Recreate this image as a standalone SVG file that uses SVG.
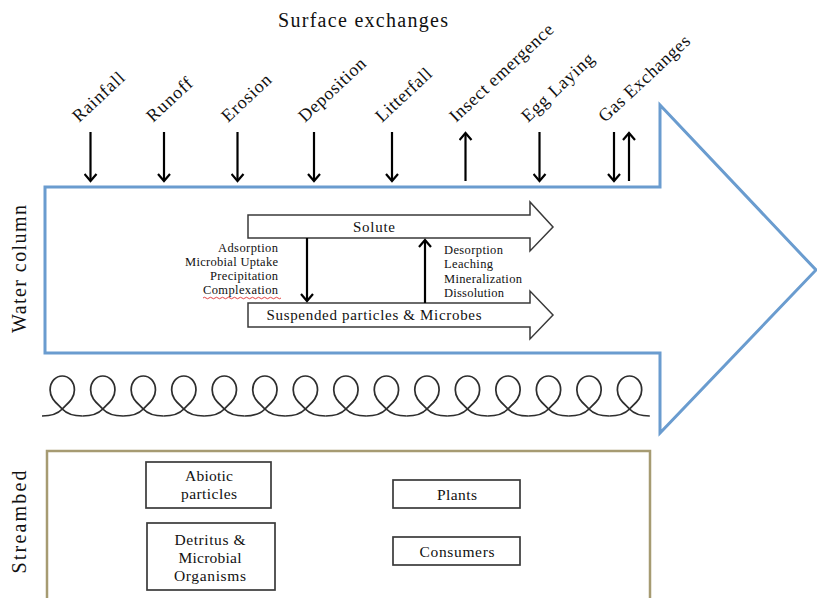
<svg xmlns="http://www.w3.org/2000/svg" width="817" height="598" viewBox="0 0 817 598">
<style>
  text { font-family: "Liberation Serif", "Times New Roman", serif; fill: #111; }
  .title { font-size: 20px; text-anchor: middle; }
  .side { font-size: 20px; text-anchor: middle; }
  .flux { font-size: 18px; }
  .proc { font-size: 12.5px; }
  .procL { font-size: 12.5px; text-anchor: end; }
  .pool { font-size: 15px; text-anchor: middle; }
  .box { font-size: 15.5px; text-anchor: middle; }
  .conn { stroke: #000; stroke-width: 2.2; fill: none; }
  .flow { fill: #fff; stroke: #3a3a3a; stroke-width: 1.5; }
  .node { fill: #fff; stroke: #3a3a3a; stroke-width: 1.7; }
  .coil { fill: none; stroke: #2e2e2e; stroke-width: 1.7; }
</style>
<defs>
  <marker id="head" markerUnits="userSpaceOnUse" viewBox="0 0 10 14" markerWidth="10" markerHeight="14" refX="8" refY="7" orient="auto">
    <path d="M1,1 L8,7 L1,13" fill="none" stroke="#000" stroke-width="2.2"/>
  </marker>
  <path id="loop" class="coil" d="M0,19 C7,19 15,17.5 20,12 C25,6.5 32,2 32,-7 C32,-16 26,-21 20,-21 C14,-21 8,-16 8,-7 C8,2 15,6.5 20,12 C25,17.5 33,19 40,19"/>
</defs>

<rect width="817" height="598" fill="#fff"/>

<g id="title">
  <text class="title" x="363" y="27" textLength="170">Surface exchanges</text>
</g>

<g id="water-column">
  <path d="M45,187 L660,187 L660,105 L816,270 L660,433 L660,353 L45,353 Z" fill="none" stroke="#6a9ccf" stroke-width="3"/>
  <text class="side" transform="translate(26,269) rotate(-90)" textLength="128">Water column</text>
</g>

<g id="flux-labels">
  <text class="flux" transform="translate(79,123) rotate(-43)" textLength="64">Rainfall</text>
  <text class="flux" transform="translate(153,123) rotate(-43)" textLength="56">Runoff</text>
  <text class="flux" transform="translate(228,123) rotate(-43)" textLength="61">Erosion</text>
  <text class="flux" transform="translate(305,123) rotate(-43)" textLength="85">Deposition</text>
  <text class="flux" transform="translate(382,123) rotate(-43)" textLength="70">Litterfall</text>
  <text class="flux" transform="translate(456,123) rotate(-43)" textLength="135">Insect emergence</text>
  <text class="flux" transform="translate(528,123) rotate(-43)" textLength="92">Egg Laying</text>
  <text class="flux" transform="translate(605,123) rotate(-43)" textLength="118">Gas Exchanges</text>
</g>

<g id="solute">
  <path class="flow" d="M248,215 L530,215 L530,202 L553,227 L530,251 L530,238 L248,238 Z"/>
  <text class="pool" x="374" y="232" textLength="42">Solute</text>
</g>

<g id="suspended">
  <path class="flow" d="M248,303 L530,303 L530,291 L553,315 L530,339 L530,327 L248,327 Z"/>
  <text class="pool" x="374" y="320" textLength="215">Suspended particles &amp; Microbes</text>
</g>

<g id="process-labels">
  <text class="procL" x="278" y="252" textLength="60">Adsorption</text>
  <text class="procL" x="278" y="266" textLength="93">Microbial Uptake</text>
  <text class="procL" x="278" y="280" textLength="68">Precipitation</text>
  <text class="procL" x="278" y="294" textLength="75">Complexation</text>
  <path d="M203,298 q1.5,-1.5 3,0 t3,0 t3,0 t3,0 t3,0 t3,0 t3,0 t3,0 t3,0 t3,0 t3,0 t3,0 t3,0 t3,0 t3,0 t3,0 t3,0 t3,0 t3,0 t3,0 t3,0 t3,0 t3,0 t3,0 t3,0 t3,0" fill="none" stroke="#e03030" stroke-width="0.9"/>
  <text class="proc" x="444" y="254" textLength="59">Desorption</text>
  <text class="proc" x="444" y="268" textLength="49">Leaching</text>
  <text class="proc" x="444" y="283" textLength="78">Mineralization</text>
  <text class="proc" x="444" y="297" textLength="60">Dissolution</text>
</g>

<g id="connectors">
  <line class="conn" x1="90.5" y1="132" x2="90.5" y2="181" marker-end="url(#head)"/>
  <line class="conn" x1="164" y1="132" x2="164" y2="181" marker-end="url(#head)"/>
  <line class="conn" x1="237.5" y1="132" x2="237.5" y2="181" marker-end="url(#head)"/>
  <line class="conn" x1="314" y1="132" x2="314" y2="181" marker-end="url(#head)"/>
  <line class="conn" x1="392" y1="132" x2="392" y2="181" marker-end="url(#head)"/>
  <line class="conn" x1="465.5" y1="181" x2="465.5" y2="133" marker-end="url(#head)"/>
  <line class="conn" x1="539.5" y1="132" x2="539.5" y2="181" marker-end="url(#head)"/>
  <line class="conn" x1="614" y1="132" x2="614" y2="181" marker-end="url(#head)"/>
  <line class="conn" x1="629" y1="181" x2="629" y2="133" marker-end="url(#head)"/>
  <line class="conn" x1="307" y1="238" x2="307" y2="301" marker-end="url(#head)"/>
  <line class="conn" x1="425" y1="303" x2="425" y2="240" marker-end="url(#head)"/>
</g>

<g id="coil" transform="translate(42,397) scale(1.013,1)">
  <use href="#loop" x="0"/>
  <use href="#loop" x="40"/>
  <use href="#loop" x="80"/>
  <use href="#loop" x="120"/>
  <use href="#loop" x="160"/>
  <use href="#loop" x="200"/>
  <use href="#loop" x="240"/>
  <use href="#loop" x="280"/>
  <use href="#loop" x="320"/>
  <use href="#loop" x="360"/>
  <use href="#loop" x="400"/>
  <use href="#loop" x="440"/>
  <use href="#loop" x="480"/>
  <use href="#loop" x="520"/>
  <use href="#loop" x="560"/>
</g>

<g id="streambed">
  <rect x="47" y="451" width="603" height="160" fill="none" stroke="#a69b72" stroke-width="2.5"/>
  <text class="side" transform="translate(26,522) rotate(-90)" textLength="103">Streambed</text>
</g>

<g id="abiotic">
  <rect class="node" x="146" y="462" width="125" height="46"/>
  <text class="box" x="209" y="481" textLength="48">Abiotic</text>
  <text class="box" x="209" y="499" textLength="56">particles</text>
</g>

<g id="detritus">
  <rect class="node" x="147" y="523" width="128" height="67"/>
  <text class="box" x="210" y="545" textLength="71">Detritus &amp;</text>
  <text class="box" x="210" y="563" textLength="63">Microbial</text>
  <text class="box" x="210" y="581" textLength="72">Organisms</text>
</g>

<g id="plants">
  <rect class="node" x="393" y="480" width="127" height="28"/>
  <text class="box" x="457" y="500" textLength="40">Plants</text>
</g>

<g id="consumers">
  <rect class="node" x="393" y="537" width="127" height="28"/>
  <text class="box" x="457" y="557" textLength="75">Consumers</text>
</g>
</svg>
